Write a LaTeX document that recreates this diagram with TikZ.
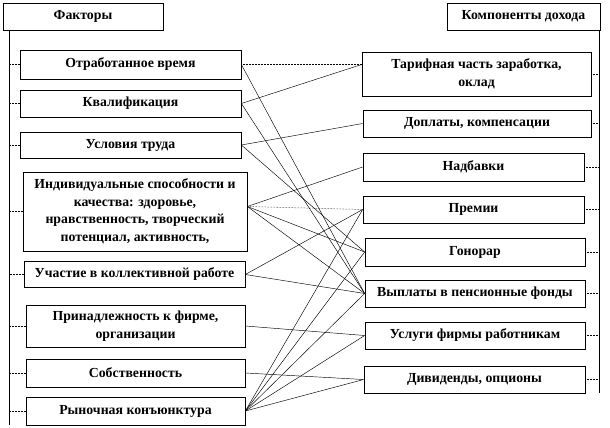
\documentclass[tikz,border=0pt]{standalone}
\usepackage{fontspec}
\setmainfont{Liberation Serif}
\usetikzlibrary{calc}
\begin{document}
\begin{tikzpicture}[x=1pt,y=-1pt,
  box/.style={draw=black, line width=0.7pt, fill=white, inner sep=1pt,
    font=\bfseries\fontsize{13.8}{17.5}\selectfont, align=center},
  link/.style={line width=0.45pt},
  flat/.style={line width=0.5pt, densely dotted},
  tick/.style={line width=0.5pt, densely dotted},
  trunk/.style={line width=0.8pt}]
\useasboundingbox (0,0) rectangle (610,428);

% left column
\node[box, minimum width=160pt, minimum height=27pt] (f) at (83,16.5) {Факторы};
\node[box, minimum width=221pt, minimum height=29pt] (l1) at (130.5,64.5) {Отработанное время};
\node[box, minimum width=221pt, minimum height=27pt] (l2) at (130.5,103.5) {Квалификация};
\node[box, minimum width=221pt, minimum height=26pt] (l3) at (130.5,145) {Условия труда};
\node[box, minimum width=224pt, minimum height=79pt] (l4) at (135,211.5) {Индивидуальные способности и\\качества: здоровье,\\нравственность, творческий\\потенциал, активность,};
\node[box, minimum width=221pt, minimum height=26pt] (l5) at (134.5,274.5) {Участие в коллективной работе};
\node[box, minimum width=219pt, minimum height=42pt] (l6) at (135.5,326) {Принадлежность к фирме,\\организации};
\node[box, minimum width=219pt, minimum height=28pt] (l7) at (135.5,373) {Собственность};
\node[box, minimum width=219pt, minimum height=28pt] (l8) at (135.5,411) {Рыночная конъюнктура};

% right column
\node[box, minimum width=153pt, minimum height=27pt] (k) at (523.5,16.5) {Компоненты дохода};
\node[box, minimum width=229pt, minimum height=44pt] (r1) at (476.5,74) {Тарифная часть заработка,\\оклад};
\node[box, minimum width=228pt, minimum height=27pt] (r2) at (477,123.5) {Доплаты, компенсации};
\node[box, minimum width=221pt, minimum height=28pt] (r3) at (473.5,167) {Надбавки};
\node[box, minimum width=221pt, minimum height=27pt] (r4) at (473.5,209.5) {Премии};
\node[box, minimum width=220pt, minimum height=28pt] (r5) at (475,252) {Гонорар};
\node[box, minimum width=220pt, minimum height=27pt] (r6) at (475,293.5) {Выплаты в пенсионные фонды};
\node[box, minimum width=220pt, minimum height=27pt] (r7) at (475,335.5) {Услуги фирмы работникам};
\node[box, minimum width=221pt, minimum height=27pt] (r8) at (474.5,379.5) {Дивиденды, опционы};

% trunks
\coordinate (lt) at ($(f.south west)+(7,0)$);
\coordinate (lb) at (lt |- 0,425);
\coordinate (rt) at ($(k.south east)+(-1,0)$);
\coordinate (rb) at (rt |- r8.south);
\draw[trunk] (lt) -- (lb);
\draw[trunk] (rt) -- (rb);
\foreach \n in {l1,l2,l3,l4,l5,l6,l7,l8}
  \draw[tick] (\n.west) -- (\n.west -| lt);
\foreach \n in {r1,r2,r3,r4,r5,r6,r7,r8}
  \draw[tick] (\n.east) -- (\n.east -| rt);

% anchors
\coordinate (r1a) at (r1.west |- l1.east);
\coordinate (l4a) at ($(l4.east)+(0,-5)$);

% links
\draw[flat] (l1.east) -- (r1a);
\draw[link] (l1.east) -- (r6.west);
\draw[link] (l2.east) -- (r1a);
\draw[link] (l2.east) -- (r6.west);
\draw[link] (l3.east) -- (r2.west);
\draw[link] (l3.east) -- (r5.west);
\draw[link] (l4a) -- (r3.west);
\draw[flat] (l4a) -- (r4.west);
\draw[link] (l4a) -- (r5.west);
\draw[link] (l4a) -- (r6.west);
\draw[link] (l5.east) -- (r4.west);
\draw[link] (l5.east) -- (r6.west);
\draw[link] (l6.east) -- (r7.west);
\draw[link] (l7.east) -- (r8.west);
\draw[link] (l8.east) -- (r4.west);
\draw[link] (l8.east) -- (r5.west);
\draw[link] (l8.east) -- (r6.west);
\draw[link] (l8.east) -- (r7.west);
\draw[link] (l8.east) -- (r8.west);
\end{tikzpicture}
\end{document}
